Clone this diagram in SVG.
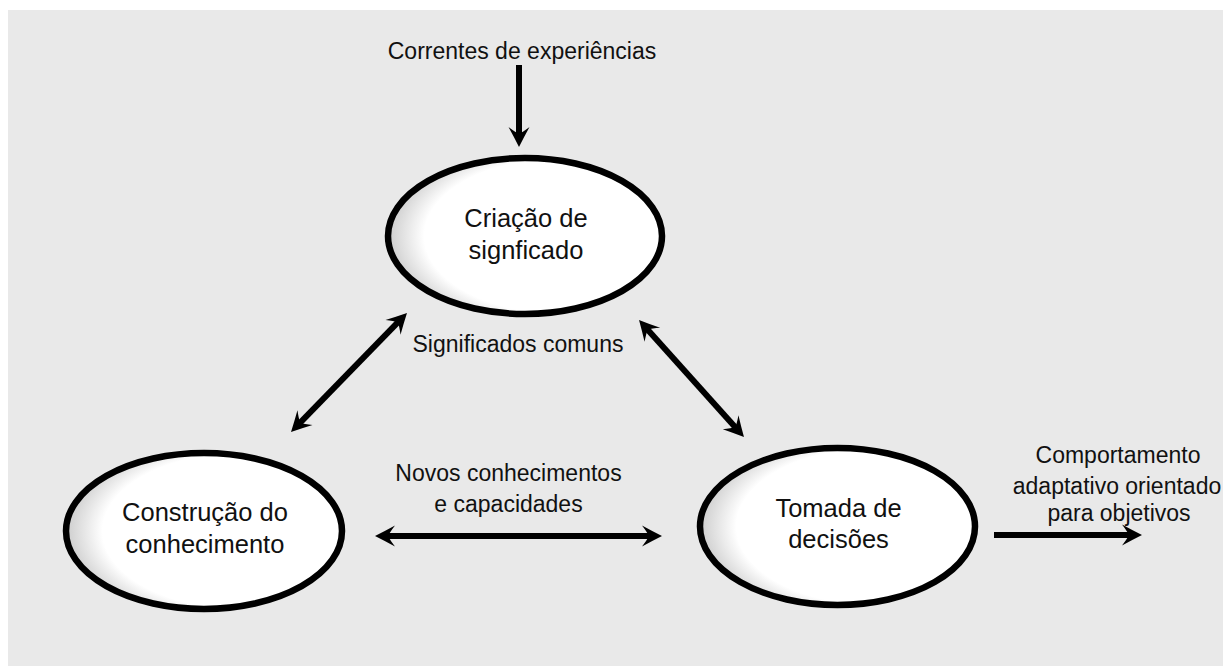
<svg xmlns="http://www.w3.org/2000/svg" width="1223" height="666" viewBox="0 0 1223 666">
  <defs>
    <style>
      .bg { fill: #e9e9e9; }
      .node { stroke: #000; stroke-width: 6.5; fill: url(#nodeGrad); }
      .ntext { font-family: "Liberation Sans", Arial, Helvetica, sans-serif; font-size: 25.5px; fill: #111; text-anchor: middle; }
      .ltext { font-family: "Liberation Sans", Arial, Helvetica, sans-serif; font-size: 23px; fill: #111; text-anchor: middle; }
      .conn { stroke: #000; stroke-width: 6; fill: none; }
      .single { marker-end: url(#head); }
      .double { marker-start: url(#head); marker-end: url(#head); }
    </style>
    <radialGradient id="nodeGrad" cx="0.63" cy="0.5" r="0.63" fx="0.63" fy="0.5">
      <stop offset="0" stop-color="#ffffff"/>
      <stop offset="0.79" stop-color="#ffffff"/>
      <stop offset="1" stop-color="#cdcdcd"/>
    </radialGradient>
    <marker id="head" markerUnits="userSpaceOnUse" viewBox="-12 -12 24 24" markerWidth="24" markerHeight="24" refX="0" refY="0" orient="auto-start-reverse">
      <path d="M10,0 Q0,-5 -10,-10.5 Q-5,-4 -3,0 Q-5,4 -10,10.5 Q0,5 10,0 Z" fill="#000"/>
    </marker>
  </defs>

  <rect class="bg" x="8" y="10" width="1215" height="656"/>

  <g id="connectors">
    <line class="conn single" x1="519" y1="65" x2="519" y2="137"/>
    <line class="conn double" x1="400" y1="320.2" x2="298" y2="424.8"/>
    <line class="conn double" x1="645.7" y1="327.4" x2="737.3" y2="429.6"/>
    <line class="conn double" x1="385" y1="536" x2="652" y2="536"/>
    <line class="conn single" x1="994" y1="535" x2="1132" y2="535"/>
  </g>

  <g id="node-criacao">
    <ellipse class="node" cx="525" cy="236" rx="137" ry="78"/>
    <text class="ntext" x="526" y="227">Criação de</text>
    <text class="ntext" x="526" y="259">signficado</text>
  </g>

  <g id="node-construcao">
    <ellipse class="node" cx="204" cy="531" rx="138" ry="78"/>
    <text class="ntext" x="205" y="521">Construção do</text>
    <text class="ntext" x="205" y="553">conhecimento</text>
  </g>

  <g id="node-tomada">
    <ellipse class="node" cx="837.5" cy="526.5" rx="137.5" ry="78.5"/>
    <text class="ntext" x="838.5" y="517">Tomada de</text>
    <text class="ntext" x="838.5" y="548">decisões</text>
  </g>

  <g id="labels">
    <text class="ltext" x="522" y="59">Correntes de experiências</text>
    <text class="ltext" x="518" y="352">Significados comuns</text>
    <text class="ltext" x="508.5" y="481">Novos conhecimentos</text>
    <text class="ltext" x="508.5" y="512">e capacidades</text>
    <text class="ltext" x="1118" y="463">Comportamento</text>
    <text class="ltext" x="1117" y="494">adaptativo orientado</text>
    <text class="ltext" x="1119" y="521">para objetivos</text>
  </g>
</svg>
